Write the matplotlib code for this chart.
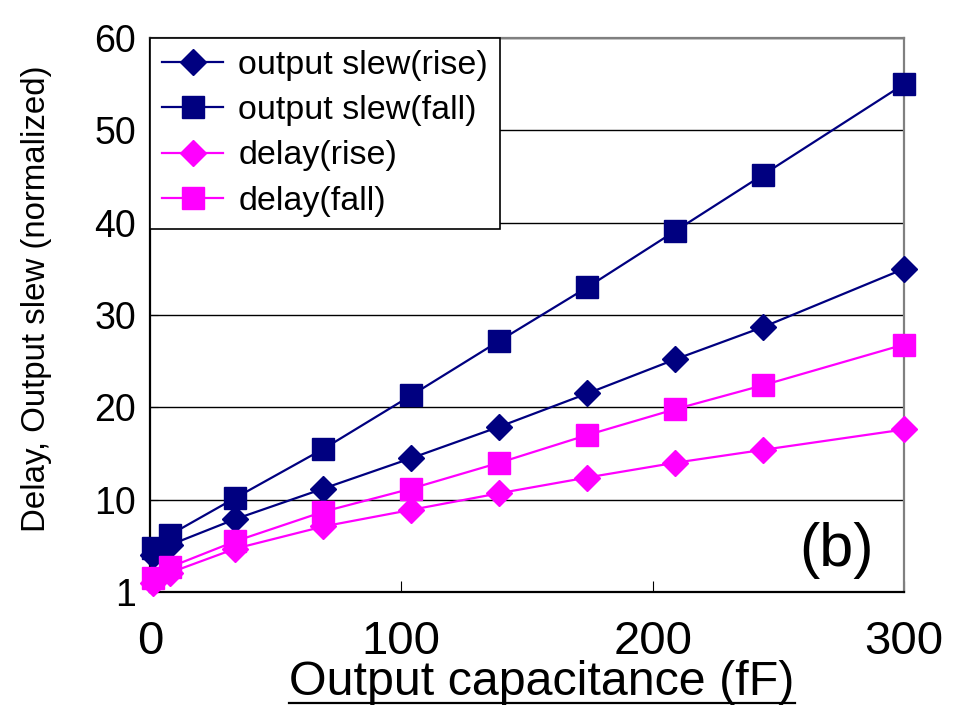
import matplotlib
matplotlib.use("Agg")
import matplotlib.pyplot as plt
from matplotlib import font_manager
from matplotlib.lines import Line2D

# data
cap = [1, 8, 34, 69, 104, 139, 174, 209, 244, 300]
slew_rise = [4.0, 5.1, 7.9, 11.2, 14.5, 17.9, 21.5, 25.2, 28.7, 35.0]
slew_fall = [4.8, 6.2, 10.2, 15.5, 21.3, 27.2, 33.0, 39.1, 45.2, 55.0]
delay_rise = [1.0, 2.1, 4.7, 7.1, 8.9, 10.7, 12.4, 14.0, 15.4, 17.6]
delay_fall = [1.5, 2.7, 5.5, 8.7, 11.2, 14.0, 17.0, 19.8, 22.4, 26.8]
yticks = [0, 10, 20, 30, 40, 50, 60]
ytick_labels = ["1", "10", "20", "30", "40", "50", "60"]
xticks = [0, 100, 200, 300]

def narrow_font():
    try:
        font_manager.findfont("Liberation Sans Narrow", fallback_to_default=False)
        return "Liberation Sans Narrow", 1.0
    except Exception:
        return "Liberation Sans", 0.85

NARROW, k = narrow_font()
plt.rcParams['font.family'] = ['Liberation Sans', 'DejaVu Sans']

fig = plt.figure(figsize=(9.54, 7.16), dpi=100)
ax = fig.add_axes([150/954, 124/716, 754/954, 554/716])

navy = '#000080'
mag = '#ff00ff'
ax.plot(cap, slew_rise, color=navy, lw=1.6, marker='D', ms=13, label='output slew(rise)', clip_on=False, zorder=3)
ax.plot(cap, slew_fall, color=navy, lw=1.6, marker='s', ms=16, label='output slew(fall)', clip_on=False, zorder=3)
ax.plot(cap, delay_rise, color=mag, lw=1.6, marker='D', ms=13, label='delay(rise)', clip_on=False, zorder=3)
ax.plot(cap, delay_fall, color=mag, lw=1.6, marker='s', ms=16, label='delay(fall)', clip_on=False, zorder=3)

ax.set_xlim(0, 300)
ax.set_ylim(0, 60)
ax.set_yticks(yticks)
ax.set_yticklabels(ytick_labels, fontsize=27)
ax.set_xticks(xticks)
ax.set_xticklabels([str(v) for v in xticks], fontsize=40 * k, family=NARROW)
ax.tick_params(axis='y', direction='in', length=6, pad=10)
ax.tick_params(axis='x', direction='in', length=8, pad=20)
ax.grid(axis='y', color='black', lw=1)
ax.set_axisbelow(True)
for s in ['left', 'bottom']:
    ax.spines[s].set_color('black')
    ax.spines[s].set_linewidth(1.6)
for s in ['top', 'right']:
    ax.spines[s].set_color('#808080')
    ax.spines[s].set_linewidth(1.6)

ax.set_xlabel('Output capacitance (fF)', fontsize=41 * k, family=NARROW)
ax.xaxis.set_label_coords(0.52, -0.163)
ax.xaxis.label.set_va('center')
ax.set_ylabel('Delay, Output slew (normalized)', fontsize=28 * k, family=NARROW)
ax.yaxis.set_label_coords(-0.15, 0.53)
ax.yaxis.label.set_va('center')

ax.text(0.91, 0.075, '(b)', transform=ax.transAxes, fontsize=44, ha='center', va='center')

leg = ax.legend(loc='upper left', bbox_to_anchor=(0, 1), borderaxespad=0, fontsize=24.5,
                frameon=True, fancybox=False, framealpha=1, edgecolor='black',
                handlelength=1.8, handletextpad=0.45, labelspacing=0.42, borderpad=0.35)
leg.get_frame().set_linewidth(1.2)

# underline the x label
fig.canvas.draw()
r = fig.canvas.get_renderer()
bb = ax.xaxis.label.get_window_extent(r)
inv = fig.transFigure.inverted()
(x0, y0), (x1, _) = inv.transform([(bb.x0, bb.y0 + 2), (bb.x1, bb.y0 + 2)])
fig.add_artist(Line2D([x0, x1], [y0, y0], transform=fig.transFigure, color='black', lw=1.6))

fig.savefig('out.png', dpi=100)
